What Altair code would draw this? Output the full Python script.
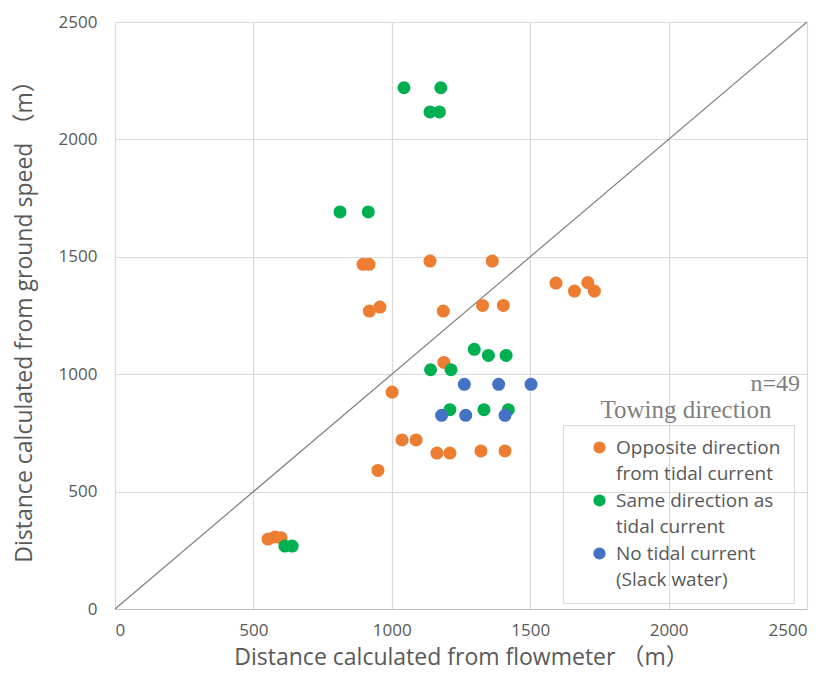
import altair as alt
import pandas as pd

# legend lines (each category label is shown on two lines)
cat_lines = ["Opposite direction", "from tidal current",
             "Same direction as", "tidal current",
             "No tidal current", "(Slack water)"]
cats = [cat_lines[0], cat_lines[2], cat_lines[4]]
colors = ["#ED7D31", "#00B050", "#4472C4"]

opp_x = [553, 578, 600, 950, 1001, 1037, 1088, 1163, 1210, 1322, 1409, 1188,
         896, 918, 1138, 1363, 919, 957, 1186, 1328, 1403, 1593, 1660, 1708, 1732]
opp_y = [298, 307, 303, 590, 924, 720, 720, 664, 664, 673, 673, 1050,
         1468, 1468, 1482, 1482, 1269, 1286, 1269, 1293, 1293, 1388, 1354, 1390, 1354]
same_x = [614, 640, 1044, 1177, 1138, 1172, 813, 915, 1298, 1349, 1413, 1140, 1214, 1210, 1333, 1421]
same_y = [268, 268, 2220, 2220, 2117, 2117, 1691, 1691, 1106, 1080, 1080, 1019, 1019, 849, 849, 849]
none_x = [1262, 1386, 1503, 1180, 1267, 1409]
none_y = [957, 957, 957, 825, 825, 825]

diag = [0, 2500]
ticks = [0, 500, 1000, 1500, 2000, 2500]

rows = []
for xs, ys, c in [(opp_x, opp_y, cats[0]), (same_x, same_y, cats[1]), (none_x, none_y, cats[2])]:
    for a, b in zip(xs, ys):
        rows.append({"x": a, "y": b, "cat": c})
df = pd.DataFrame(rows)
dline = pd.DataFrame({"x": diag, "y": diag})

W, H = 692, 587
xscale = alt.Scale(domain=[0, 2500], nice=False)
yscale = alt.Scale(domain=[0, 2500], nice=False)

color_range = [colors[0], "transparent", colors[1], "transparent", colors[2], "transparent"]

FONT = "'Open Sans', 'Noto Sans CJK JP', sans-serif"

line = alt.Chart(dline).mark_line(color="#7f7f7f", strokeWidth=1.2).encode(
    x=alt.X("x:Q", scale=xscale,
            axis=alt.Axis(values=ticks, format="d",
                          title="Distance calculated from flowmeter （m）")),
    y=alt.Y("y:Q", scale=yscale,
            axis=alt.Axis(values=ticks, format="d",
                          title="Distance calculated from ground speed （m）")),
)

pts = alt.Chart(df).mark_circle(size=170, opacity=1).encode(
    x=alt.X("x:Q", scale=xscale),
    y=alt.Y("y:Q", scale=yscale),
    color=alt.Color("cat:N", scale=alt.Scale(domain=cat_lines, range=color_range),
                    legend=alt.Legend(title=None, orient="none", legendX=448, legendY=403,
                                      labelFontSize=19, labelColor="#595959",
                                      labelFont=FONT, labelLimit=300,
                                      symbolSize=150, symbolType="circle",
                                      strokeColor="#d9d9d9", padding=13,
                                      rowPadding=6.5, symbolOffset=14, labelOffset=7,
                                      labelBaseline="middle")),
)

n_txt = alt.Chart(pd.DataFrame({"t": ["n=49"]})).mark_text(
    font="Liberation Serif", fontSize=24, color="#7f7f7f", align="right", baseline="alphabetic"
).encode(text="t:N", x=alt.value(685), y=alt.value(369))

title_txt = alt.Chart(pd.DataFrame({"t": ["Towing direction"]})).mark_text(
    font="Liberation Serif", fontSize=25, color="#7f7f7f", align="center", baseline="alphabetic"
).encode(text="t:N", x=alt.value(571), y=alt.value(396))

chart = alt.layer(line, pts, n_txt, title_txt).properties(
    width=W, height=H, background="white"
).configure_view(
    stroke=None
).configure_axis(
    grid=True, gridColor="#d9d9d9", gridWidth=1.2, tickSize=0,
    labelFont=FONT, labelFontSize=17, labelColor="#595959",
    titleFont=FONT, titleFontSize=23, titleFontWeight="normal", titleColor="#595959",
).configure_axisX(
    domainColor="#bfbfbf", labelPadding=13, titlePadding=8
).configure_axisY(
    domain=False, labelPadding=18, titlePadding=22
)

chart.save("out.html", embed_options={"renderer": "svg", "actions": False})
